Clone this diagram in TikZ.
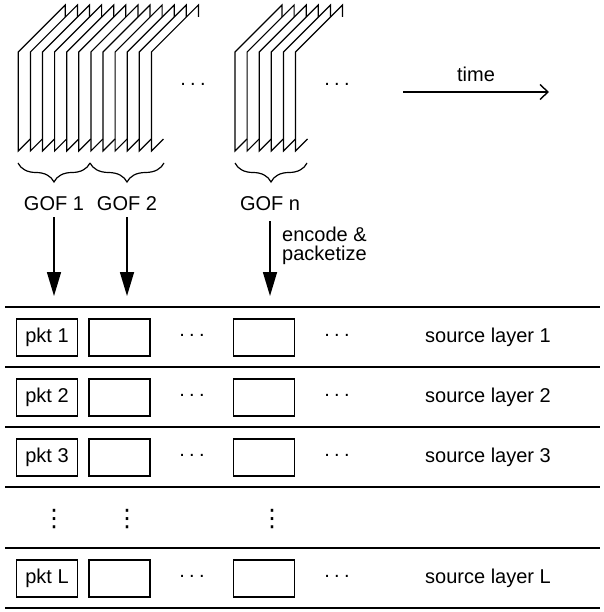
\documentclass[tikz,border=0pt]{standalone}
\usepackage{fontspec}
\setmainfont{Liberation Sans}
\newfontfamily\symfont{DejaVu Sans}
\usetikzlibrary{arrows.meta,decorations.pathreplacing}

% spaced horizontal ellipsis
\newcommand\hdotsrow{.\hspace{4.4pt}.\hspace{4.4pt}.}

\begin{document}
\begin{tikzpicture}[x=1pt,y=-1pt,
  lbl/.style={font=\fontsize{20}{22}\selectfont, inner sep=0pt},
  vdotlbl/.style={font=\symfont\fontsize{24}{26}\selectfont, inner sep=0pt},
  framepath/.style={line width=1.2pt, line join=miter},
  rule/.style={line width=1.6pt},
  pktbox/.style={draw, line width=1.3pt, minimum width=61pt, minimum height=37pt,
                 inner sep=0pt, font=\fontsize{20}{22}\selectfont},
  gofbrace/.style={decorate, decoration={brace, mirror, amplitude=19pt}, line width=1.2pt},
  downarrow/.style={line width=1.6pt, -{Triangle[length=24pt,width=14pt]}},
  timearrow/.style={line width=1.4pt, -{Straight Barb[length=8pt,width=15pt,line width=1.4pt]}},
]
\useasboundingbox (0,0) rectangle (603,612);

% ---- stacks of frames (left edge, top slant, short tick, bottom zig) ----
\foreach \i in {0,...,11} {
  \pgfmathsetmacro\xo{18.3+12.1*\i}
  \draw[framepath] (\xo+12,139) -- (\xo,151) -- (\xo,52) -- (\xo+47,5) -- (\xo+47,17);
}
\foreach \i in {0,...,5} {
  \pgfmathsetmacro\xo{235+12.1*\i}
  \draw[framepath] (\xo+12,139) -- (\xo,151) -- (\xo,52) -- (\xo+47,5) -- (\xo+47,17);
}

\node[lbl] (gapA) at (193,84) {\hdotsrow};
\node[lbl] (gapB) at (337,84) {\hdotsrow};

% ---- time axis ----
\coordinate (t0) at (403,92);
\coordinate (t1) at (549,92);
\draw[timearrow] (t0) -- (t1);
\node[lbl] (timelbl) at (476,74) {time};

% ---- group braces and labels ----
\draw[gofbrace] (18,163) -- (90,163);
\draw[gofbrace] (90,163) -- (164,163);
\draw[gofbrace] (235,163) -- (307,163);

\node[lbl] (gof1) at (54,204) {GOF 1};
\node[lbl] (gof2) at (127,204) {GOF 2};
\node[lbl] (gofn) at (270,204) {GOF n};

% ---- encoding arrows ----
\coordinate (e1) at (54,296);
\coordinate (e2) at (127,296);
\coordinate (en) at (270,296);
\draw[downarrow, shorten <=6pt] (gof1.south) -- (e1);
\draw[downarrow, shorten <=6pt] (gof2.south) -- (e2);
\draw[downarrow, shorten <=10pt] (gofn.south) -- (en);
\node[lbl, anchor=north west, align=left, font=\fontsize{20}{19}\selectfont]
  (enc) at (282,227) {encode \&\\packetize};

% ---- layer rows ----
\foreach \y in {307,367,427,487,548,608}
  \draw[rule] (5,\y) -- (600,\y);

\foreach \k/\y/\t in {1/337.5/1, 2/397.5/2, 3/457.5/3, L/578.5/L} {
  \node[pktbox] (p\k a) at (47,\y) {pkt \t};
  \node[pktbox] (p\k b) at (119.5,\y) {};
  \node[pktbox] (p\k c) at (264,\y) {};
  \node[lbl] (p\k d1) at (192,\y-2) {\hdotsrow};
  \node[lbl] (p\k d2) at (337,\y-2) {\hdotsrow};
  \node[lbl, anchor=west] (p\k s) at (425,\y) {source layer \t};
}

\node[vdotlbl] (vd1) at (54,519) {⋮};
\node[vdotlbl] (vd2) at (127,519) {⋮};
\node[vdotlbl] (vd3) at (272,519) {⋮};
\end{tikzpicture}
\end{document}
